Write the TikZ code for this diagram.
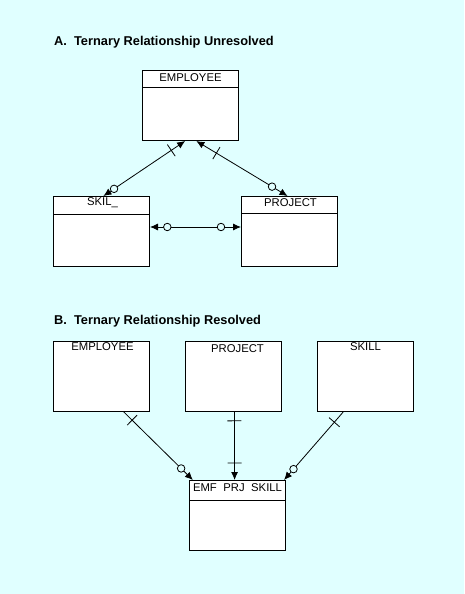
\documentclass[tikz,border=0pt]{standalone}
\usepackage{fontspec}
\setmainfont{Liberation Sans}
\usetikzlibrary{arrows.meta,calc}
\definecolor{bgc}{RGB}{224,255,255}
\tikzset{
  entity/.style={draw=black, fill=white, line width=1pt, minimum width=96pt, minimum height=70pt, anchor=north west, inner sep=0pt},
  lbl/.style={font=\fontsize{11.3}{12}\selectfont, inner sep=0pt},
  ttl/.style={font=\fontsize{12.8}{14}\selectfont\bfseries, anchor=west, inner sep=0pt},
  conn/.style={line width=0.8pt},
  tip/.tip={Latex[length=8pt,width=7pt]},
  circ/.style={circle, draw=black, fill=bgc, line width=0.8pt, inner sep=0pt, minimum size=7.5pt},
  tick/.style={sloped, draw=black, line width=0.8pt, inner sep=0pt, minimum width=0pt, minimum height=14pt}
}
\begin{document}
\begin{tikzpicture}[x=1pt,y=-1pt]
\fill[bgc] (0,0) rectangle (464,594);
\useasboundingbox (0,0) rectangle (464,594);

% titles
\node[ttl] (tA) at (54,42) {A.\ \ Ternary Relationship Unresolved};
\node[ttl] (tB) at (54,321) {B.\ \ Ternary Relationship Resolved};

% Part A
\node[entity] (empA) at (142,70) {};
\node[entity] (skiA) at (53,196) {};
\node[entity] (prjA) at (241,196) {};
\draw[line width=1pt] ($(empA.north west)+(0,17)$) -- ($(empA.north east)+(0,17)$);
\draw[line width=1pt] ($(skiA.north west)+(0,18)$) -- ($(skiA.north east)+(0,18)$);
\draw[line width=1pt] ($(prjA.north west)+(0,17)$) -- ($(prjA.north east)+(0,17)$);
\node[lbl] (lempA) at ($(empA.north)+(0,8)$) {EMPLOYEE};
\node[lbl] (lskiA) at ($(skiA.north)+(1,7)$) {SKIL\_};
\node[lbl] (lprjA) at ($(prjA.north)+(1,7)$) {PROJECT};

\coordinate (a1) at ($(empA.south west)!0.445!(empA.south east)$);
\coordinate (a2) at ($(skiA.north west)!0.52!(skiA.north east)$);
\coordinate (a3) at ($(empA.south west)!0.56!(empA.south east)$);
\coordinate (a4) at ($(prjA.north west)!0.48!(prjA.north east)$);
\draw[conn, {tip}-{tip}] (a1) -- node[tick, pos=0.17] {} node[circ, pos=0.87] {} (a2);
\draw[conn, {tip}-{tip}] (a3) -- node[tick, pos=0.22] {} node[circ, pos=0.83] {} (a4);
\draw[conn, {tip}-{tip}] ($(skiA.north east)+(0,31)$) -- node[circ, pos=0.19] {} node[circ, pos=0.78] {} ($(prjA.north west)+(0,31)$);

% Part B
\node[entity] (empB) at (53,341) {};
\node[entity] (prjB) at (185,341) {};
\node[entity] (skiB) at (317,341) {};
\node[entity] (eps) at (189,480) {};
\draw[line width=1pt] ($(eps.north west)+(0,20)$) -- ($(eps.north east)+(0,20)$);
\node[lbl] (lempB) at ($(empB.north)+(1,6)$) {EMPLOYEE};
\node[lbl] (lprjB) at ($(prjB.north)+(4,8)$) {PROJECT};
\node[lbl] (lskiB) at ($(skiB.north)+(0,6)$) {SKILL};
\node[lbl] (leps) at ($(eps.north)+(0,8)$) {EMF\hspace{6.5pt}PRJ\hspace{6.5pt}SKILL};

\coordinate (b1) at ($(empB.south west)!0.73!(empB.south east)$);
\coordinate (b2) at ($(eps.north west)!0.04!(eps.north east)$);
\coordinate (b3) at ($(prjB.south west)!0.51!(prjB.south east)$);
\coordinate (b4) at ($(eps.north west)!0.47!(eps.north east)$);
\coordinate (b5) at ($(skiB.south west)!0.27!(skiB.south east)$);
\coordinate (b6) at ($(eps.north west)!0.98!(eps.north east)$);
\draw[conn, -{tip}] (b1) -- node[tick, pos=0.12] {} node[circ, pos=0.83] {} (b2);
\draw[conn, -{tip}] (b3) -- node[tick, pos=0.13] {} node[tick, pos=0.75] {} (b4);
\draw[conn, -{tip}] (b5) -- node[tick, pos=0.15] {} node[circ, pos=0.84] {} (b6);
\end{tikzpicture}
\end{document}
